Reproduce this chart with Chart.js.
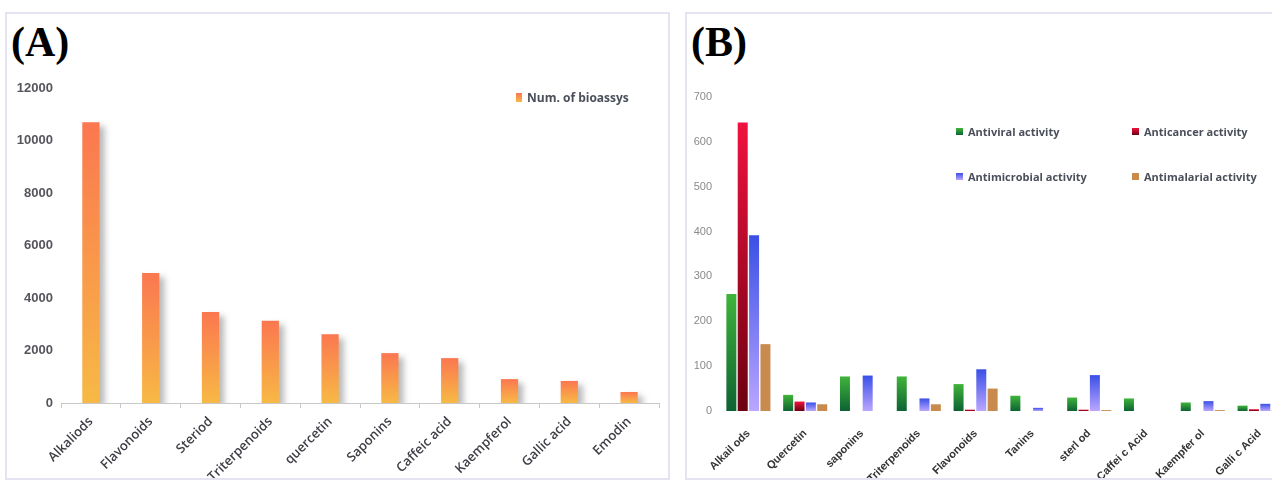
<!DOCTYPE html>
<html>
<head>
<meta charset="utf-8">
<script src="https://cdn.jsdelivr.net/npm/chart.js@4.4.1/dist/chart.umd.min.js"></script>
<style>
  html, body { margin: 0; padding: 0; background: #fff; overflow: hidden; }
  body { width: 1272px; height: 481px; position: relative; }
  .frame { position: absolute; border: 2px solid #e3e3f1; box-sizing: border-box; }
  .tag { position: absolute; font: bold 42px "Liberation Serif", "Times New Roman", serif; color: #000; line-height: 1; }
  canvas { position: absolute; }
  .legend { position: absolute; font: bold 12px "Open Sans", "Noto Sans", sans-serif; color: #4a4f5a; white-space: nowrap; }
  .legend .item { position: absolute; display: flex; align-items: center; }
  .legend .mark { display: inline-block; margin-right: 5px; }
</style>
</head>
<body>

<div class="frame" style="left:5px; top:12px; width:665px; height:468px;"></div>
<div class="frame" style="left:685px; top:12px; width:640px; height:468px;"></div>

<div class="tag" style="left:11px; top:21px;">(A)</div>
<div class="tag" style="left:691px; top:21px;">(B)</div>

<canvas id="chartA" width="663" height="465" style="left:6px; top:13px;"></canvas>
<canvas id="chartB" width="612" height="465" style="left:686px; top:13px;"></canvas>

<div class="legend" id="legendA"></div>
<div class="legend" id="legendB" style="font-size:11px;"></div>

<script>
// ==========================
//  Panel A — bioassays per compound class
// ==========================
const catsA   = ['Alkaliods', 'Flavonoids', 'Steriod', 'Triterpenoids', 'quercetin',
                 'Saponins', 'Caffeic acid', 'Kaempferol', 'Gallic acid', 'Emodin'];
const seriesA = 'Num. of bioassys';
const valuesA = [10700, 4950, 3470, 3130, 2620, 1900, 1710, 910, 840, 420];
const ticksA  = [0, 2000, 4000, 6000, 8000, 10000, 12000];

// ==========================
//  Panel B — activities per compound class
// ==========================
const catsB      = ['Alkail ods', 'Quercetin', 'saponins', 'Triterpenoids', 'Flavonoids',
                    'Tanins', 'sterl od', 'Caffei c Acid', 'Kaempfer ol', 'Galli c Acid'];
const seriesB    = ['Antiviral activity', 'Anticancer activity', 'Antimicrobial activity', 'Antimalarial activity'];
const antiviral     = [261, 36, 77, 77, 60, 34, 30, 28, 19, 12];
const anticancer    = [643, 21,  0,  0,  3,  0,  3,  0,  0,  4];
const antimicrobial = [392, 19, 79, 28, 93,  7, 80,  0, 22, 16];
const antimalarial  = [149, 15,  0, 15, 50,  0,  2,  0,  2,  2];
const ticksB     = [0, 100, 200, 300, 400, 500, 600, 700];

// colours: [top, bottom] of each bar gradient
const colorsA = ['#fb7750', '#f7b945'];
const colorsB = [
  ['#40b43a', '#0d6233'],
  ['#f0123f', '#6c0010'],
  ['#3a4fe6', '#baa6ff'],
  ['#c98a4e', '#c98a4e']
];

// ── gradient per bar, from its top down to the baseline ──
function barGradient(ctx, top, bottom) {
  const chart = ctx.chart;
  const y = chart.scales && chart.scales.y;
  if (!y || ctx.raw == null || top === bottom) return top;
  const y0 = y.getPixelForValue(0);
  const y1 = y.getPixelForValue(ctx.raw);
  if (!isFinite(y0) || !isFinite(y1) || Math.abs(y0 - y1) < 1) return top;
  const g = chart.ctx.createLinearGradient(0, y1, 0, y0);
  g.addColorStop(0, top);
  g.addColorStop(1, bottom);
  return g;
}

// ── soft drop shadow behind the bars of panel A ──
const barShadow = {
  id: 'barShadow',
  beforeDatasetsDraw(chart) {
    const c = chart.ctx;
    c.save();
    c.shadowColor = 'rgba(0,0,0,0.28)';
    c.shadowBlur = 6;
    c.shadowOffsetX = 5;
    c.shadowOffsetY = 4;
  },
  afterDatasetsDraw(chart) { chart.ctx.restore(); }
};

function fixWidth(w)  { return scale => { scale.width = w; }; }
function fixHeight(h) { return scale => { scale.height = h; }; }
const plain = v => String(v);

// ── CHART A ──────────────────────────────────────────────
new Chart(document.getElementById('chartA'), {
  type: 'bar',
  data: {
    labels: catsA,
    datasets: [{
      label: seriesA,
      data: valuesA,
      backgroundColor: ctx => barGradient(ctx, colorsA[0], colorsA[1]),
      borderWidth: 0,
      categoryPercentage: 0.8,
      barPercentage: 0.36
    }]
  },
  options: {
    responsive: false,
    devicePixelRatio: 1,
    animation: false,
    layout: { padding: { top: 75, right: 10, left: 0, bottom: 0 } },
    plugins: { legend: { display: false }, tooltip: { enabled: false } },
    scales: {
      x: {
        afterFit: fixHeight(75),
        grid: { display: true, drawOnChartArea: false, drawTicks: true, tickLength: 5, color: '#c8c8c8', offset: true },
        border: { display: true, color: '#c8c8c8' },
        ticks: {
          autoSkip: false, minRotation: 45, maxRotation: 45, padding: 6,
          color: '#3d3d45', font: { family: '"Open Sans", "Noto Sans", sans-serif', size: 13, weight: '600' }
        }
      },
      y: {
        min: 0, max: 12000,
        afterFit: fixWidth(55),
        afterBuildTicks: axis => { axis.ticks = ticksA.map(v => ({ value: v })); },
        grid: { display: false, drawTicks: false },
        border: { display: false },
        ticks: {
          padding: 8, color: '#55555c', callback: plain,
          font: { family: '"Liberation Sans", Arial, sans-serif', size: 13, weight: 'bold' }
        }
      }
    }
  },
  plugins: [barShadow]
});

// ── CHART B ──────────────────────────────────────────────
const valuesB = [antiviral, anticancer, antimicrobial, antimalarial];

new Chart(document.getElementById('chartB'), {
  type: 'bar',
  data: {
    labels: catsB,
    datasets: seriesB.map((name, i) => ({
      label: name,
      data: valuesB[i],
      backgroundColor: ctx => barGradient(ctx, colorsB[i][0], colorsB[i][1]),
      borderWidth: 0,
      categoryPercentage: 0.8,
      barPercentage: 0.88
    }))
  },
  options: {
    responsive: false,
    devicePixelRatio: 1,
    animation: false,
    layout: { padding: { top: 84, right: 10, left: 0, bottom: 0 } },
    plugins: { legend: { display: false }, tooltip: { enabled: false } },
    scales: {
      x: {
        afterFit: fixHeight(67),
        grid: { display: false, drawTicks: false },
        border: { display: false },
        ticks: {
          autoSkip: false, minRotation: 45, maxRotation: 45, padding: 16,
          color: '#333', font: { family: '"Liberation Sans", Arial, sans-serif', size: 11, weight: 'bold' }
        }
      },
      y: {
        min: 0, max: 700,
        afterFit: fixWidth(34),
        afterBuildTicks: axis => { axis.ticks = ticksB.map(v => ({ value: v })); },
        grid: { display: false, drawTicks: false },
        border: { display: false },
        ticks: {
          padding: 8, color: '#8a8a8a', callback: plain,
          font: { family: '"Liberation Sans", Arial, sans-serif', size: 11 }
        }
      }
    }
  }
});

// ── HTML legends ─────────────────────────────────────────
function legendItem(parent, text, cols, x, y, w, h) {
  const item = document.createElement('div');
  item.className = 'item';
  item.style.left = x + 'px';
  item.style.top = y + 'px';
  const mark = document.createElement('span');
  mark.className = 'mark';
  mark.style.width = w + 'px';
  mark.style.height = h + 'px';
  mark.style.background = `linear-gradient(${cols[0]}, ${cols[1]})`;
  item.appendChild(mark);
  item.appendChild(document.createTextNode(text));
  parent.appendChild(item);
}

legendItem(document.getElementById('legendA'), seriesA, colorsA, 516, 89, 6, 9);

const legB = document.getElementById('legendB');
const posB = [[956, 124], [1132, 124], [956, 169], [1132, 169]];
seriesB.forEach((name, i) => legendItem(legB, name, colorsB[i], posB[i][0], posB[i][1], 7, 7));
</script>
</body>
</html>
